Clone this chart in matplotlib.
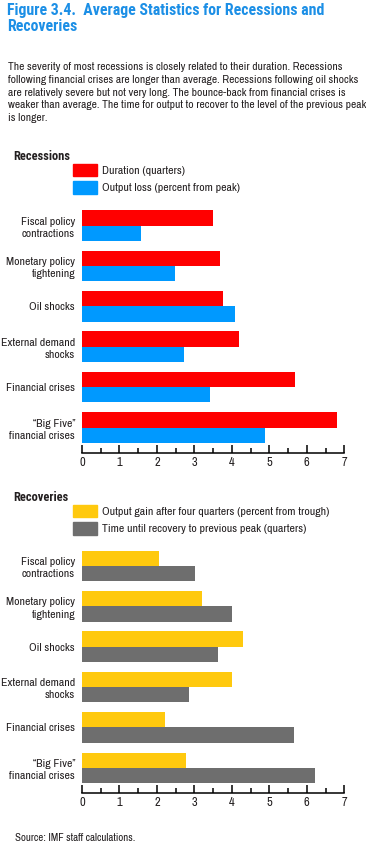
import matplotlib
matplotlib.use("Agg")
import matplotlib.pyplot as plt
import numpy as np
from matplotlib.patches import Patch
from matplotlib import font_manager

####DATA
categories = ["Fiscal policy\ncontractions", "Monetary policy\ntightening", "Oil shocks",
              "External demand\nshocks", "Financial crises", "\u201cBig Five\u201d\nfinancial crises"]

duration = [3.5, 3.68, 3.75, 4.19, 5.68, 6.8]
output_loss = [1.57, 2.48, 4.08, 2.72, 3.41, 4.88]

output_gain = [2.05, 3.2, 4.29, 4.0, 2.21, 2.77]
time_to_peak = [3.01, 4.0, 3.63, 2.85, 5.65, 6.21]

rec_labels = ["Duration (quarters)", "Output loss (percent from peak)"]
recov_labels = ["Output gain after four quarters (percent from trough)",
                "Time until recovery to previous peak (quarters)"]

xticks = [0, 1, 2, 3, 4, 5, 6, 7]

####FONTS - pick a narrow family if one is there
have = {}
for f in font_manager.fontManager.ttflist:
    have.setdefault(f.name, set()).add(f.weight)


def pick(prefs, bold=False):
    for p in prefs:
        if p in have and (not bold or any(w >= 600 for w in have[p] if isinstance(w, int))):
            return p
    return 'DejaVu Sans'


regular = pick(['Archivo Narrow', 'Roboto Condensed', 'Barlow Semi Condensed'])
boldfam = pick(['Roboto Condensed', 'Barlow Semi Condensed', 'Asap Condensed'], bold=True)
plt.rcParams['font.family'] = [regular, 'DejaVu Sans']
if regular == 'DejaVu Sans':
    plt.rcParams['font.stretch'] = 'condensed'

txt = '#231F20'
W, H = 366, 849
fs = 8.5

fig = plt.figure(figsize=(W / 100, H / 100), dpi=100)


def px_axes(x0, y0, x1, y1):
    # pixel box (top-left origin) -> figure fraction
    return fig.add_axes([x0 / W, 1 - y1 / H, (x1 - x0) / W, (y1 - y0) / H])


def panel(ax, v1, v2, c1, c2):
    y = np.arange(len(categories))
    h = 0.38
    ax.barh(y - h / 2, v1, height=h, color=c1)
    ax.barh(y + h / 2, v2, height=h, color=c2)
    ax.set_xlim(0, 7)
    ax.set_ylim(len(categories) - 1 + 0.63, -0.5)
    ax.set_yticks(y)
    ax.set_yticklabels(categories, fontsize=fs, color=txt, linespacing=1.3)
    ax.tick_params(axis='y', length=0, pad=5)
    for s in ['top', 'right', 'left']:
        ax.spines[s].set_visible(False)
    ax.spines['bottom'].set_linewidth(1.1)
    ax.set_xticks(xticks)
    ax.set_xticks(np.arange(0.5, 7, 1), minor=True)
    ax.tick_params(axis='x', which='major', direction='in', length=6, width=1.1,
                   labelsize=9, labelcolor=txt, pad=3)
    ax.tick_params(axis='x', which='minor', direction='in', length=3.5, width=1.1)


####TITLE AND NOTE
fig.text(7 / W, 1 - 3 / H, "Figure 3.4.  Average Statistics for Recessions and\nRecoveries",
         fontsize=11.4, fontweight='bold', family=[boldfam, 'DejaVu Sans'],
         color='#1C8FE6', va='top', ha='left', linespacing=1.1)

note = ("The severity of most recessions is closely related to their duration. Recessions\n"
        "following financial crises are longer than average. Recessions following oil shocks\n"
        "are relatively severe but not very long. The bounce-back from financial crises is\n"
        "weaker than average. The time for output to recover to the level of the previous peak\n"
        "is longer.")
fig.text(8 / W, 1 - 62 / H, note, fontsize=8.3, color=txt, va='top', ha='left', linespacing=1.35)

####RECESSIONS
ax1 = px_axes(82, 205.3, 344.3, 453)
panel(ax1, duration, output_loss, '#FF0000', '#0099FF')
fig.text(13 / W, 1 - 157 / H, "Recessions", fontsize=9, fontweight='bold',
         family=[boldfam, 'DejaVu Sans'], color=txt, va='center', ha='left')
h1 = [Patch(color='#FF0000'), Patch(color='#0099FF')]
fig.legend(h1, rec_labels, loc='upper left', bbox_to_anchor=(73 / W, 1 - 164 / H),
           frameon=False, fontsize=fs, handlelength=2.0, handleheight=1.2,
           handletextpad=0.45, labelspacing=0.45, borderpad=0, borderaxespad=0,
           labelcolor=txt)

####RECOVERIES
ax2 = px_axes(82, 545.75, 344.3, 793.3)
panel(ax2, output_gain, time_to_peak, '#FFC90E', '#6E6E6E')
fig.text(13 / W, 1 - 497 / H, "Recoveries", fontsize=9, fontweight='bold',
         family=[boldfam, 'DejaVu Sans'], color=txt, va='center', ha='left')
h2 = [Patch(color='#FFC90E'), Patch(color='#6E6E6E')]
fig.legend(h2, recov_labels, loc='upper left', bbox_to_anchor=(73 / W, 1 - 505 / H),
           frameon=False, fontsize=fs, handlelength=2.0, handleheight=1.2,
           handletextpad=0.45, labelspacing=0.45, borderpad=0, borderaxespad=0,
           labelcolor=txt)

fig.text(15 / W, 1 - 838 / H, "Source: IMF staff calculations.", fontsize=7.8, color=txt,
         va='center', ha='left')

fig.savefig("out.png", dpi=100)
